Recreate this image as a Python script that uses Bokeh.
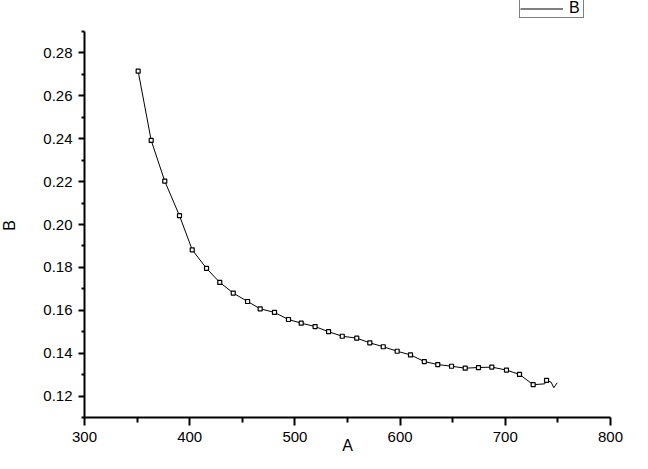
import math
from bokeh.plotting import figure
from bokeh.models import FixedTicker, Legend, LegendItem, Range1d, PrintfTickFormatter, Label
from bokeh.embed import file_html
from bokeh.resources import INLINE

# Symbols
marker_x = [351.0, 363.4, 376.3, 390.3, 402.4, 416.0, 428.6, 441.4, 455.0, 467.0,
            480.6, 493.9, 506.0, 519.2, 532.0, 545.0, 558.8, 571.2, 584.0, 597.2,
            609.9, 623.0, 635.8, 648.9, 661.9, 674.5, 687.2, 701.1, 713.5, 726.5, 739.2]
marker_y = [0.2715, 0.2392, 0.2202, 0.2041, 0.1882, 0.1795, 0.1730, 0.1680, 0.1641, 0.1607,
            0.1590, 0.1557, 0.1540, 0.1524, 0.1500, 0.1479, 0.1470, 0.1448, 0.1430, 0.1409,
            0.1392, 0.1361, 0.1347, 0.1339, 0.1330, 0.1333, 0.1335, 0.1321, 0.1301, 0.1253, 0.1273]

# Line (including the tail)
line_x = marker_x[:29] + [726.5, 737.5, 739.2, 743.5, 746.1, 749.3]
line_y = marker_y[:29] + [0.1253, 0.1257, 0.1273, 0.1265, 0.1239, 0.1262]

x_ticks = [300, 400, 500, 600, 700, 800]
x_minor = [350, 450, 550, 650, 750]
y_ticks = [0.12, 0.14, 0.16, 0.18, 0.20, 0.22, 0.24, 0.26, 0.28]
y_minor = [0.11, 0.13, 0.15, 0.17, 0.19, 0.21, 0.23, 0.25, 0.27, 0.29]
x_axis_span = (300, 800)
y_axis_span = (0.11, 0.29)

FONT = "Liberation Sans"
W, H = 632, 453
# axes box in canvas pixels
AX_L, AX_R, AX_T, AX_B = 84, 610, 31, 417
xs = (AX_R - AX_L) / (x_axis_span[1] - x_axis_span[0])
ys = (AX_B - AX_T) / (y_axis_span[1] - y_axis_span[0])

p = figure(width=W, height=H, output_backend="svg", toolbar_location=None,
           x_range=Range1d(x_axis_span[0] - AX_L / xs, x_axis_span[1] + (W - AX_R) / xs),
           y_range=Range1d(y_axis_span[0] - (H - AX_B) / ys, y_axis_span[1] + AX_T / ys),
           min_border_left=0, min_border_right=0, min_border_top=0, min_border_bottom=0)
p.outline_line_color = None
p.xgrid.visible = False
p.ygrid.visible = False
p.background_fill_color = "white"
p.border_fill_color = "white"

ln = p.line(line_x, line_y, line_color="black", line_width=1)
p.scatter(marker_x, marker_y, marker="square", size=4, fill_color="white",
          line_color="black", line_width=1.2)

for ax in (p.xaxis[0], p.yaxis[0]):
    ax.axis_line_width = 2
    ax.axis_line_color = "black"
    ax.major_tick_line_width = 2
    ax.minor_tick_line_width = 2
    ax.major_tick_in = 0
    ax.minor_tick_in = 0
    ax.major_label_text_font = FONT
    ax.major_label_text_font_size = "15px"
    ax.major_label_text_color = "black"

p.xaxis.fixed_location = y_axis_span[0]
p.yaxis.fixed_location = x_axis_span[0]
p.xaxis.bounds = x_axis_span
p.yaxis.bounds = y_axis_span
p.xaxis.major_tick_out = 8
p.xaxis.minor_tick_out = 5
p.yaxis.major_tick_out = 6
p.yaxis.minor_tick_out = 3

p.xaxis.ticker = FixedTicker(ticks=x_ticks, minor_ticks=x_minor)
p.yaxis.ticker = FixedTicker(ticks=y_ticks, minor_ticks=y_minor)
p.xaxis.formatter = PrintfTickFormatter(format="%d")
p.yaxis.formatter = PrintfTickFormatter(format="%.2f")
p.xaxis.major_label_standoff = 6
p.yaxis.major_label_standoff = 6

# axis titles
p.add_layout(Label(x=9, y=H - 225, x_units="screen", y_units="screen", text="B",
                   angle=math.pi / 2, text_font=FONT, text_font_size="16px",
                   text_color="black", text_align="center", text_baseline="middle"))
p.add_layout(Label(x=550, y=0, x_units="data", y_units="screen", text="A",
                   text_font=FONT, text_font_size="16px", text_color="black",
                   text_align="center", text_baseline="bottom"))

legend = Legend(items=[LegendItem(label="B", renderers=[ln])],
                location=(519, H - 18), border_line_color="black", border_line_width=1,
                padding=0, margin=0, spacing=0, glyph_width=43, glyph_height=17,
                label_height=17, label_width=14, label_standoff=6, label_text_font=FONT,
                label_text_font_size="16px", label_text_color="black",
                background_fill_alpha=1.0)
p.add_layout(legend)

open("out.html", "w").write(file_html(p, INLINE))
